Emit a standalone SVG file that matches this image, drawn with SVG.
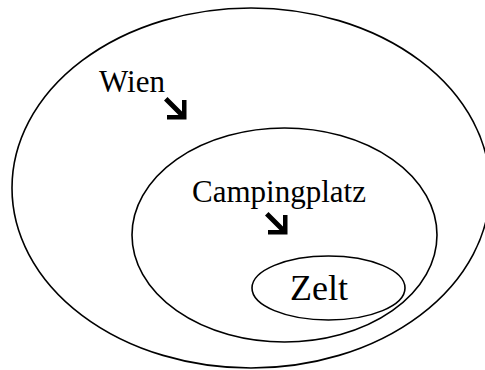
<svg xmlns="http://www.w3.org/2000/svg" width="485" height="370" viewBox="0 0 485 370">
<style>
.e{fill:none;stroke:#000;stroke-width:1.6}
.t{font-family:"Liberation Serif","Times New Roman",serif;fill:#000}
.a{fill:#000;stroke:none}
</style>
<defs>
<path id="arr" class="a" d="M0,3.5 L3.5,0 L18,14.5 L18,3 L22.5,3 L22.5,22.5 L3,22.5 L3,18 L14.5,18 Z"/>
</defs>
<rect width="485" height="370" fill="#fff"/>
<g id="wien">
<ellipse class="e" cx="251" cy="188" rx="239" ry="180"/>
<text class="t" x="99" y="92" font-size="31">Wien</text>
</g>
<g id="campingplatz">
<ellipse class="e" cx="284.5" cy="235" rx="152.5" ry="107"/>
<text class="t" x="192" y="202" font-size="31">Campingplatz</text>
</g>
<g id="zelt">
<ellipse class="e" cx="328.5" cy="288" rx="76.5" ry="32"/>
<text class="t" x="290" y="300" font-size="36">Zelt</text>
</g>
<g id="connectors">
<use href="#arr" x="164" y="97"/>
<use href="#arr" x="265" y="212"/>
</g>
</svg>
